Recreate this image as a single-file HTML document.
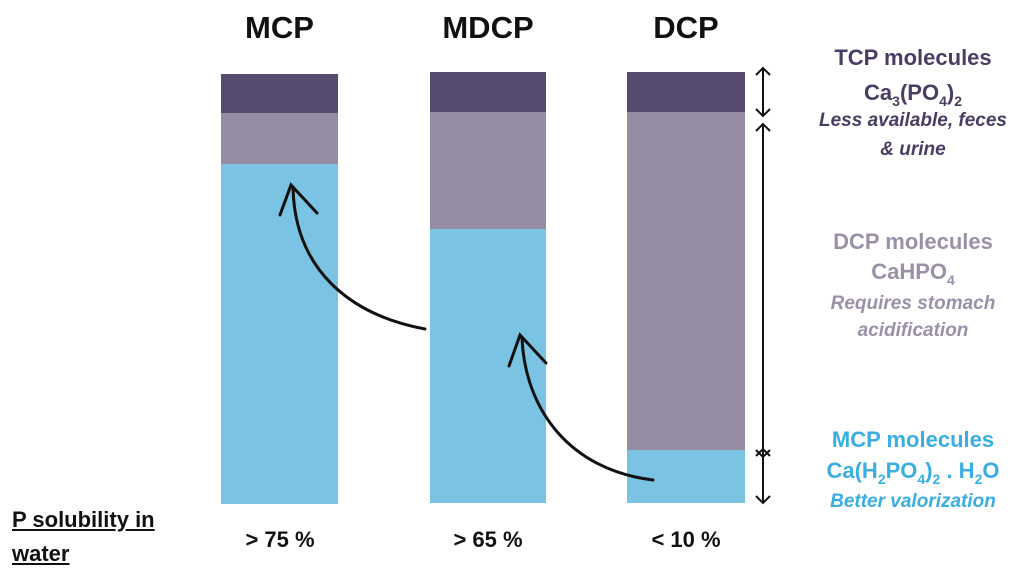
<!DOCTYPE html><html><head><style>
body{margin:0;width:1024px;height:572px;background:#fff;overflow:hidden;position:relative;font-family:"Liberation Sans",sans-serif}
.t{position:absolute;text-align:center;font-weight:bold}
.l{position:absolute;left:800px;width:226px;text-align:center;font-weight:bold;line-height:30px;white-space:nowrap}
.s{font-size:14px;position:relative;top:6px}
i{font-size:19px}
</style></head><body>
<svg width="1024" height="572" style="position:absolute;left:0;top:0">
<rect x="221" y="74" width="117" height="39" fill="#564a6e"/>
<rect x="221" y="113" width="117" height="51" fill="#958ba3"/>
<rect x="221" y="164" width="117" height="340" fill="#7bc3e3"/>
<rect x="430" y="72" width="116" height="40" fill="#564a6e"/>
<rect x="430" y="112" width="116" height="117" fill="#958ba3"/>
<rect x="430" y="229" width="116" height="274" fill="#7bc3e3"/>
<rect x="627" y="72" width="118" height="40" fill="#564a6e"/>
<rect x="627" y="112" width="118" height="338" fill="#958ba3"/>
<rect x="627" y="450" width="118" height="53" fill="#7bc3e3"/>
<g fill="none" stroke="#111" stroke-width="3" stroke-linecap="round">
<path d="M425,329 C350,315 295,270 293,188"/>
<path d="M280,215 L291,185 L317,213"/>
<path d="M653,480 C570,470 525,410 522,338"/>
<path d="M509,366 L520,335 L546,363"/>
</g>
<g fill="none" stroke="#111" stroke-width="2">
<path d="M763,68 V116 M756,75 L763,68 L770,75 M756,109 L763,116 L770,109"/>
<path d="M763,124 V457 M756,131 L763,124 L770,131 M756,450 L763,457 L770,450"/>
<path d="M763,449 V503 M756,456 L763,449 L770,456 M756,496 L763,503 L770,496"/>
</g>
</svg>
<div class="t" style="left:221px;width:117px;top:10px;font-size:31px;color:#111">MCP</div>
<div class="t" style="left:420px;width:136px;top:10px;font-size:31px;color:#111">MDCP</div>
<div class="t" style="left:627px;width:118px;top:10px;font-size:31px;color:#111">DCP</div>
<div style="color:#4a3d63">
<div class="l" style="top:43px;font-size:22px">TCP molecules</div>
<div class="l" style="top:78px;font-size:22px">Ca<span class="s">3</span>(PO<span class="s">4</span>)<span class="s">2</span></div>
<div class="l" style="top:106px"><i>Less available, feces</i></div>
<div class="l" style="top:135px"><i>&amp; urine</i></div>
</div>
<div style="color:#9a90a8">
<div class="l" style="top:227px;font-size:22px">DCP molecules</div>
<div class="l" style="top:257px;font-size:22px">CaHPO<span class="s">4</span></div>
<div class="l" style="top:289px"><i>Requires stomach</i></div>
<div class="l" style="top:316px"><i>acidification</i></div>
</div>
<div style="color:#3aaee0">
<div class="l" style="top:425px;font-size:22px">MCP molecules</div>
<div class="l" style="top:456px;font-size:22px">Ca(H<span class="s">2</span>PO<span class="s">4</span>)<span class="s">2</span> . H<span class="s">2</span>O</div>
<div class="l" style="top:487px"><i>Better valorization</i></div>
</div>
<div style="position:absolute;left:12px;top:503px;font-size:22px;font-weight:bold;line-height:34px;text-decoration:underline;color:#111">P solubility in<br>water</div>
<div class="t" style="left:200px;width:160px;top:527px;font-size:22px;color:#111">&gt; 75 %</div>
<div class="t" style="left:408px;width:160px;top:527px;font-size:22px;color:#111">&gt; 65 %</div>
<div class="t" style="left:606px;width:160px;top:527px;font-size:22px;color:#111">&lt; 10 %</div>
</body></html>
